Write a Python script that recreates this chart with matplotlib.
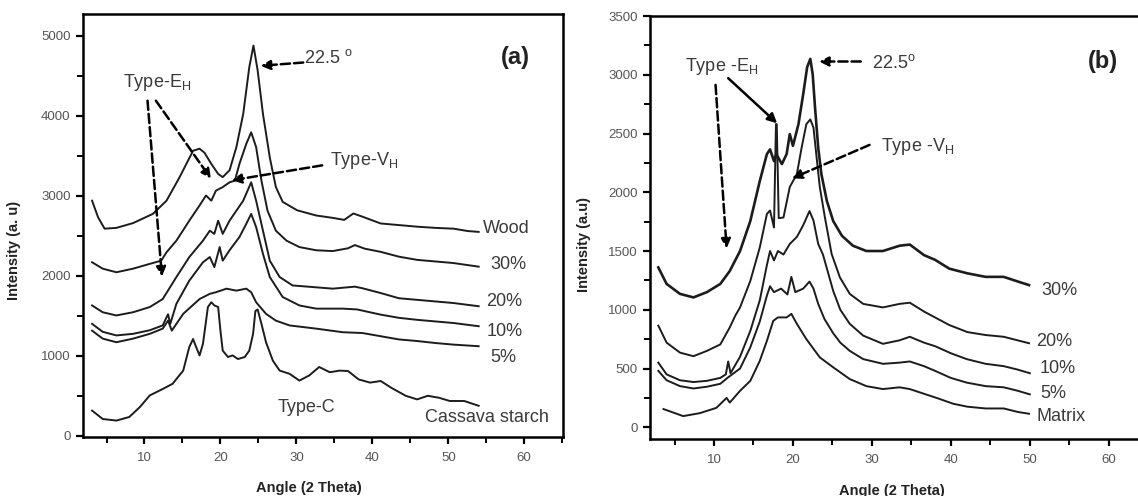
import matplotlib
matplotlib.use("Agg")
import matplotlib.pyplot as plt
from matplotlib.ticker import MultipleLocator

plt.rcParams['font.family'] = ['Liberation Sans', 'DejaVu Sans']
plt.rcParams['mathtext.fontset'] = 'custom'
plt.rcParams['mathtext.rm'] = 'Liberation Sans'
plt.rcParams['mathtext.it'] = 'Liberation Sans'

# ---- panel (a): cassava starch / wood composites ----
wood_x = [3.1, 3.9, 4.75, 6.3, 8.5, 11.1, 12.9, 14.6, 16.4, 17.25, 17.9, 18.8, 19.7, 20.3, 21.2,
          22.1, 23.0, 23.8, 24.35, 24.9, 25.6, 26.5, 27.3, 28.2, 30.1, 32.6, 34.8, 36.3, 37.5,
          38.7, 41.1, 43.5, 45.9, 48.3, 50.7, 52.6, 54.0]
wood_y = [2940, 2730, 2590, 2600, 2660, 2775, 2940, 3230, 3565, 3590, 3540, 3400, 3275, 3235, 3320,
          3610, 4025, 4610, 4880, 4570, 4025, 3480, 3110, 2925, 2820, 2755, 2725, 2700, 2780,
          2740, 2655, 2635, 2615, 2600, 2590, 2560, 2550]

a30_x = [3.1, 4.5, 6.3, 8.5, 10.7, 12.2, 12.9, 14.2, 15.9, 17.25, 18.1, 18.8, 19.4, 20.3, 21.2,
         21.9, 22.5, 23.4, 24.05, 24.7, 25.4, 26.2, 27.3, 28.7, 30.4, 32.6, 34.8, 36.8, 37.7,
         39.0, 41.1, 43.5, 45.9, 48.3, 50.7, 54.0]
a30_y = [2170, 2090, 2045, 2090, 2150, 2190, 2295, 2440, 2690, 2880, 3005, 2940, 3065, 3110, 3170,
         3190, 3400, 3650, 3795, 3610, 3190, 2815, 2565, 2440, 2360, 2320, 2310, 2345, 2385,
         2340, 2300, 2240, 2200, 2180, 2160, 2115]

a20_x = [3.1, 4.5, 6.3, 8.5, 10.7, 12.4, 14.2, 15.9, 17.7, 18.6, 19.2, 19.7, 20.3, 21.2, 22.1,
         23.0, 24.05, 24.7, 25.6, 26.5, 27.8, 29.5, 31.5, 34.8, 37.7, 38.7, 41.1, 43.5, 45.9,
         48.3, 50.7, 54.0]
a20_y = [1630, 1545, 1505, 1545, 1610, 1710, 1985, 2235, 2440, 2565, 2525, 2690, 2525, 2690, 2815,
         2940, 3170, 2940, 2565, 2190, 1985, 1880, 1865, 1840, 1865, 1845, 1785, 1720, 1700,
         1680, 1660, 1620]

a10_x = [3.1, 4.5, 6.3, 8.5, 10.7, 12.4, 13.1, 13.4, 14.2, 15.9, 17.7, 18.6, 19.2, 19.9, 20.3,
         21.2, 22.5, 23.4, 24.05, 24.7, 25.6, 26.5, 28.2, 30.4, 32.6, 36.1, 38.0, 41.1, 43.5,
         45.9, 48.3, 50.7, 54.0]
a10_y = [1400, 1300, 1255, 1275, 1320, 1380, 1520, 1400, 1650, 1940, 2170, 2235, 2110, 2360, 2190,
         2320, 2485, 2650, 2775, 2610, 2275, 1985, 1735, 1630, 1590, 1590, 1580, 1515, 1475,
         1450, 1430, 1410, 1370]

a5_x = [3.1, 4.5, 6.3, 8.5, 10.7, 12.4, 13.1, 13.6, 15.1, 17.25, 18.6, 19.4, 20.8, 22.1, 23.4,
        24.05, 24.7, 26.0, 27.3, 29.1, 32.6, 36.1, 38.7, 41.1, 43.5, 45.9, 48.3, 50.7, 54.0]
a5_y = [1315, 1215, 1170, 1215, 1275, 1340, 1440, 1315, 1525, 1710, 1775, 1795, 1840, 1815, 1840,
        1795, 1670, 1525, 1440, 1380, 1340, 1295, 1285, 1245, 1205, 1185, 1160, 1140, 1120]

cassava_x = [3.1, 4.5, 6.3, 8.0, 9.4, 10.7, 12.4, 13.7, 15.1, 15.9, 16.4, 16.8, 17.25, 17.7, 18.35,
             18.8, 19.2, 19.7, 20.0, 20.3, 21.0, 21.6, 22.3, 23.2, 23.8, 24.3, 24.6, 24.9, 25.4,
             26.0, 26.9, 27.8, 29.1, 30.4, 31.7, 33.0, 34.4, 35.7, 36.8, 38.2, 39.7, 41.1, 42.5,
             44.4, 45.9, 47.3, 48.8, 50.2, 52.1, 54.0]
cassava_y = [315, 210, 190, 235, 360, 505, 585, 650, 815, 1110, 1210, 1110, 1005, 1150, 1610,
             1670, 1630, 1610, 1315, 1065, 985, 1005, 960, 985, 1065, 1275, 1560, 1580, 1400,
             1170, 940, 815, 775, 690, 755, 860, 795, 815, 810, 705, 665, 685, 600,
             500, 455, 500, 475, 435, 435, 375]

# ---- panel (b): matrix composites ----
b30_x = [2.95, 4.0, 5.7, 7.4, 9.1, 10.8, 12.0, 13.3, 14.6, 15.8, 16.7, 17.1, 17.6, 17.9, 18.6,
         19.2, 19.6, 20.0, 20.7, 21.3, 21.8, 22.2, 22.5, 22.8, 23.2, 23.6, 24.3, 25.1, 26.2,
         27.6, 29.3, 31.4, 33.5, 34.8, 36.6, 38.0, 39.8, 42.1, 44.4, 46.7, 48.5, 49.9]
b30_y = [1360, 1220, 1135, 1105, 1150, 1220, 1330, 1500, 1755, 2095, 2325, 2365, 2265, 2325, 2240,
         2325, 2495, 2395, 2580, 2835, 3065, 3135, 3005, 2720, 2380, 2155, 1925, 1755, 1630,
         1545, 1500, 1500, 1545, 1555, 1465, 1425, 1350, 1310, 1280, 1280, 1240, 1210]

b20_x = [2.95, 4.0, 5.7, 7.4, 9.1, 10.8, 12.0, 12.7, 13.3, 14.6, 15.8, 16.7, 17.1, 17.6, 17.85,
         17.95, 18.2, 18.8, 19.6, 20.5, 21.1, 21.7, 22.2, 22.6, 23.0, 23.4, 24.05, 24.9, 25.95,
         27.2, 28.9, 31.4, 33.5, 34.8, 36.6, 39.8, 42.1, 44.4, 46.7, 49.9]
b20_y = [865, 720, 635, 605, 650, 705, 850, 950, 1020, 1245, 1530, 1815, 1845, 1700, 2580,
         2580, 1780, 1785, 2045, 2155, 2380, 2580, 2620, 2550, 2295, 2045, 1785, 1475, 1275,
         1135, 1050, 1020, 1050, 1060, 985, 870, 810, 785, 770, 715]

b10_x = [2.95, 4.0, 5.7, 7.4, 9.1, 10.8, 11.5, 11.8, 12.1, 13.3, 14.6, 15.8, 16.7, 17.1, 17.6,
         18.1, 18.8, 19.6, 20.5, 21.3, 22.1, 22.6, 23.2, 23.8, 25.1, 26.0, 27.2, 28.9, 31.4,
         33.5, 34.8, 36.6, 38.0, 40.0, 42.0, 44.4, 46.7, 48.5, 50.0]
b10_y = [550, 450, 400, 385, 395, 420, 450, 560, 460, 600, 820, 1080, 1380, 1500, 1420,
         1500, 1470, 1560, 1620, 1720, 1840, 1760, 1560, 1470, 1160, 1000, 880, 780, 710,
         740, 770, 720, 690, 630, 580, 540, 520, 490, 460]

b5_x = [2.95, 4.0, 5.7, 7.4, 9.1, 10.8, 11.7, 13.3, 14.6, 15.8, 16.7, 17.1, 17.6, 18.5, 19.3,
        19.8, 20.3, 21.3, 22.1, 22.6, 23.2, 24.0, 25.1, 26.0, 27.2, 28.9, 31.4, 33.5, 34.8,
        36.6, 38.0, 40.0, 42.0, 44.4, 46.7, 48.5, 50.0]
b5_y = [480, 400, 350, 330, 345, 370, 420, 500, 680, 900, 1120, 1200, 1150, 1180, 1130,
        1280, 1150, 1180, 1240, 1180, 1050, 920, 800, 720, 650, 580, 540, 550, 560,
        520, 480, 420, 380, 350, 340, 310, 280]

matrix_x = [3.6, 6.1, 8.2, 10.3, 11.6, 12.0, 13.3, 14.6, 15.8, 16.7, 17.5, 18.1, 19.2, 19.8, 20.5,
            21.7, 23.4, 25.1, 27.2, 29.3, 31.4, 33.5, 34.8, 36.6, 38.4, 40.3, 42.1, 44.4, 46.7,
            48.5, 49.9]
matrix_y = [155, 95, 120, 165, 250, 210, 310, 395, 565, 735, 905, 935, 935, 965, 880,
            750, 595, 510, 410, 350, 325, 340, 325, 285, 245, 200, 175, 160, 160,
            130, 115]

series_a = [(wood_x, wood_y), (a30_x, a30_y), (a20_x, a20_y), (a10_x, a10_y),
            (a5_x, a5_y), (cassava_x, cassava_y)]
labels_a = [("Wood", 54.5, 2593), ("30%", 55.5, 2137), ("20%", 55.0, 1680),
            ("10%", 55.0, 1307), ("5%", 55.5, 975)]

series_b = [(b30_x, b30_y), (b20_x, b20_y), (b10_x, b10_y), (b5_x, b5_y), (matrix_x, matrix_y)]
labels_b = [("30%", 51.5, 1167), ("20%", 50.8, 727), ("10%", 51.3, 500),
            ("5%", 51.3, 287), ("Matrix", 50.8, 88)]

LINE = '#1c1c1c'
TXT = '#3a3a3a'

fig = plt.figure(figsize=(11.38, 4.96), dpi=100)
ax1 = fig.add_axes([0.0729, 0.1190, 0.4218, 0.8528])
ax2 = fig.add_axes([0.5712, 0.1149, 0.4385, 0.8528])


def style_axes(ax, ymajor, yminor):
    for sp in ax.spines.values():
        sp.set_linewidth(1.8)
    ax.xaxis.set_major_locator(MultipleLocator(10))
    ax.xaxis.set_minor_locator(MultipleLocator(5))
    ax.yaxis.set_major_locator(MultipleLocator(ymajor))
    ax.yaxis.set_minor_locator(MultipleLocator(yminor))
    ax.tick_params(which='major', direction='out', length=5, width=1.6,
                   labelsize=9.5, labelcolor='#555555', pad=4, top=False, right=False)
    ax.tick_params(axis='x', which='major', pad=6)
    ax.tick_params(which='minor', direction='out', length=4, width=1.4,
                   top=False, right=False)


def arrow(ax, tail, tip, ls='--'):
    ax.annotate('', xy=tip, xytext=tail,
                arrowprops=dict(arrowstyle='-|>', linestyle=ls, lw=1.8, color='k',
                                mutation_scale=14, shrinkA=0, shrinkB=0))


# panel (a)
for xs, ys in series_a:
    ax1.plot(xs, ys, color=LINE, lw=1.4)
for name, lx, ly in labels_a:
    ax1.text(lx, ly, name, fontsize=13, color=TXT, va='center', ha='left')
ax1.text(55.1, 228, "Cassava starch", fontsize=13, color=TXT, va='center', ha='center')
ax1.text(31.3, 353, "Type-C", fontsize=13, color=TXT, va='center', ha='center')
ax1.text(58.8, 4730, "(a)", fontsize=17, fontweight='bold', color='#222222', va='center', ha='center')
ax1.text(31.0, 4730, r"22.5 $^{\rm o}$", fontsize=13, color=TXT, va='center', ha='left')
ax1.text(11.6, 4420, r"Type-E$_{\rm H}$", fontsize=13, color=TXT, va='center', ha='center')
ax1.text(34.4, 3444, r"Type-V$_{\rm H}$", fontsize=13, color=TXT, va='center', ha='left')
arrow(ax1, (10.4, 4191), (12.3, 1992))
arrow(ax1, (11.5, 4191), (18.75, 3216))
arrow(ax1, (33.4, 3382), (21.5, 3195))
arrow(ax1, (30.9, 4668), (25.3, 4627))

ax1.set_xlim(1.9, 65.1)
ax1.set_ylim(-15, 5275)
style_axes(ax1, 1000, 500)
ax1.set_xlabel("Angle (2 Theta)", fontsize=10.5, fontweight='bold', color='#222222')
ax1.set_ylabel("Intensity (a. u)", fontsize=10.5, fontweight='bold', color='#222222')
ax1.xaxis.set_label_coords(0.47, -0.104)
ax1.yaxis.set_label_coords(-0.129, 0.442)

# panel (b)
for i, (xs, ys) in enumerate(series_b):
    ax2.plot(xs, ys, color=LINE, lw=1.9 if i == 0 else 1.4)
for name, lx, ly in labels_b:
    ax2.text(lx, ly, name, fontsize=13, color=TXT, va='center', ha='left')
ax2.text(59.3, 3113, "(b)", fontsize=17, fontweight='bold', color='#222222', va='center', ha='center')
ax2.text(30.0, 3098, r"22.5$^{\rm o}$", fontsize=13, color=TXT, va='center', ha='left')
ax2.text(11.0, 3070, r"Type -E$_{\rm H}$", fontsize=13, color=TXT, va='center', ha='center')
ax2.text(31.1, 2388, r"Type -V$_{\rm H}$", fontsize=13, color=TXT, va='center', ha='left')
arrow(ax2, (10.2, 2914), (11.6, 1522))
arrow(ax2, (11.8, 2971), (18.0, 2587), ls='-')
arrow(ax2, (28.6, 3113), (23.3, 3113))
arrow(ax2, (29.7, 2403), (19.9, 2119))

ax2.set_xlim(1.9, 65.1)
ax2.set_ylim(-100, 3500)
style_axes(ax2, 500, 250)
ax2.set_xlabel("Angle (2 Theta)", fontsize=10.5, fontweight='bold', color='#222222')
ax2.set_ylabel("Intensity (a.u)", fontsize=10.5, fontweight='bold', color='#222222')
ax2.xaxis.set_label_coords(0.485, -0.106)
ax2.yaxis.set_label_coords(-0.118, 0.459)

fig.savefig("out.png", dpi=100)
